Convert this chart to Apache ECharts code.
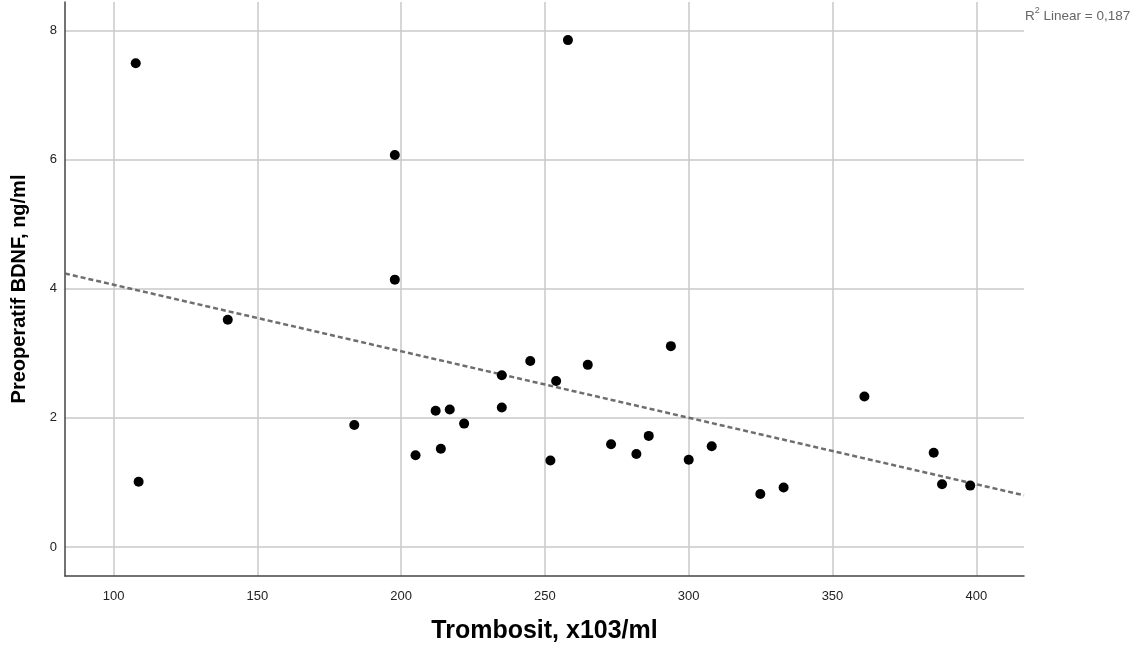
<!DOCTYPE html>
<html>
<head>
<meta charset="utf-8">
<script src="https://cdn.jsdelivr.net/npm/echarts@6/dist/echarts.min.js"></script>
<style>
html,body{margin:0;padding:0;background:#fff;}
#chart{width:1147px;height:653px;}
</style>
</head>
<body>
<div id="chart"></div>
<script>
// Data
const trombosit = [107.7,108.7,139.7,183.7,197.8,197.8,205.0,212.0,213.8,216.9,221.9,235.0,235.0,244.9,251.9,253.9,258.0,264.9,273.0,281.8,286.1,293.8,300.0,308.0,324.9,333.0,361.1,385.2,388.1,397.9];
const bdnf      = [7.49,1.01,3.52,1.89,6.07,4.14,1.42,2.11,1.52,2.13,1.91,2.66,2.16,2.88,1.34,2.57,7.85,2.82,1.59,1.44,1.72,3.11,1.35,1.56,0.82,0.92,2.33,1.46,0.97,0.95];
const fitX = [83.1, 416.6];
const fitY = [4.235, 0.80];
const xTicks = [100,150,200,250,300,350,400];
const yTicks = [0,2,4,6,8];
const xRange = [83.1, 416.6];
const yRange = [-0.45, 8.44];

const points = trombosit.map((x,i)=>[x,bdnf[i]]);
const fitLine = fitX.map((x,i)=>[x,fitY[i]]);

const chart = echarts.init(document.getElementById('chart'), null, {renderer:'canvas'});
const font = 'Liberation Sans, Arial, sans-serif';
chart.setOption({
  animation:false,
  backgroundColor:'#ffffff',
  grid:{left:65,right:123,top:2,bottom:77,containLabel:false},
  xAxis:{
    type:'value', min:xRange[0], max:xRange[1],
    name:'Trombosit, x103/ml', nameLocation:'middle', nameGap:43,
    nameTextStyle:{fontFamily:font,fontSize:25,fontWeight:'bold',color:'#000'},
    axisLine:{show:true,onZero:false,lineStyle:{color:'#444',width:1.5}},
    axisTick:{show:false,customValues:xTicks},
    axisLabel:{customValues:xTicks,fontFamily:font,fontSize:13,color:'#222',margin:14},
    splitLine:{show:true,lineStyle:{color:'#c8c8c8',width:1.5}}
  },
  yAxis:{
    type:'value', min:yRange[0], max:yRange[1],
    name:'Preoperatif BDNF, ng/ml', nameLocation:'middle', nameGap:36,
    nameTextStyle:{fontFamily:font,fontSize:20,fontWeight:'bold',color:'#000'},
    axisLine:{show:true,onZero:false,lineStyle:{color:'#444',width:1.5}},
    axisTick:{show:false,customValues:yTicks},
    axisLabel:{customValues:yTicks,fontFamily:font,fontSize:13,color:'#222',margin:8},
    splitLine:{show:true,lineStyle:{color:'#c8c8c8',width:1.5}}
  },
  series:[
    {type:'line',data:fitLine,symbol:'none',silent:true,
     lineStyle:{color:'#6e6e6e',width:2.5,type:[5,3]},z:2},
    {type:'scatter',data:points,symbol:'circle',symbolSize:10,
     itemStyle:{color:'#000',opacity:1},z:3}
  ],
  graphic:[{
    type:'text', left:1025, top:6,
    style:{
      text:'{a|R}{s|2}{a| Linear = 0,187}',
      rich:{
        a:{fontFamily:font,fontSize:13.5,fill:'#666',color:'#666',verticalAlign:'bottom',lineHeight:17},
        s:{fontFamily:font,fontSize:9,fill:'#666',color:'#666',verticalAlign:'top',lineHeight:10,padding:[0,0,7,0]}
      }
    }
  }]
});
</script>
</body>
</html>
